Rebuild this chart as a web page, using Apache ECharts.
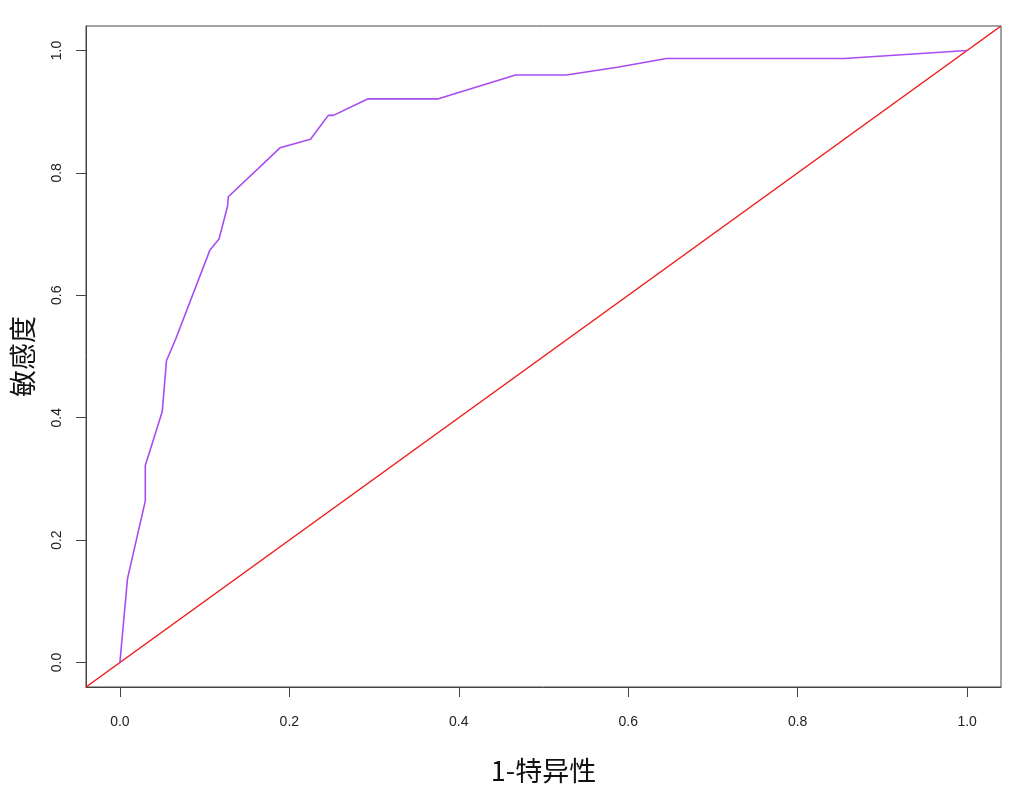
<!DOCTYPE html>
<html>
<head>
<meta charset="utf-8">
<script src="https://cdn.jsdelivr.net/npm/echarts@6/dist/echarts.min.js"></script>
<style>
  html, body { margin: 0; padding: 0; background: #fff; }
  #chart { width: 1015px; height: 787px; }
</style>
</head>
<body>
<div id="chart"></div>
<script>
// ROC curve: 1 - specificity vs sensitivity
const fpr = [0, 0.009, 0.030, 0.030, 0.050, 0.055, 0.066, 0.106, 0.117, 0.127, 0.128,
  0.189, 0.225, 0.246, 0.252, 0.293, 0.376, 0.467, 0.527, 0.589, 0.645, 0.855, 1.0]
const tpr = [0, 0.137, 0.264, 0.322, 0.410, 0.493, 0.529, 0.673, 0.692, 0.745, 0.761,
  0.841, 0.855, 0.894, 0.894, 0.921, 0.921, 0.960, 0.960, 0.973, 0.987, 0.987, 1.0]
// reference diagonal (abline 0,1) across the plot range
const diagX = [-0.04, 1.04]
const diagY = [-0.04, 1.04]
const tickValues = [0, 0.2, 0.4, 0.6, 0.8, 1.0]

const chart = echarts.init(document.getElementById('chart'))

const labelFont = { fontFamily: 'Liberation Sans', fontSize: 14, color: '#222' }
const titleFont = { fontFamily: 'Noto Sans CJK SC', fontSize: 27, color: '#111' }

const option = {
  animation: false,
  grid: {
    left: 86, right: 14, top: 26, bottom: 100,
    outerBoundsMode: 'none',
    show: true, borderColor: '#444', borderWidth: 1, backgroundColor: '#fff'
  },
  xAxis: {
    type: 'value', min: -0.04, max: 1.04,
    name: '1-特异性', nameLocation: 'middle', nameGap: 70,
    nameTextStyle: titleFont,
    splitLine: { show: false },
    axisLine: { show: true, onZero: false, lineStyle: { color: '#444' } },
    axisTick: { show: true, length: 10, customValues: tickValues, lineStyle: { color: '#444' } },
    axisLabel: Object.assign({ margin: 28, customValues: tickValues, formatter: v => v.toFixed(1) }, labelFont)
  },
  yAxis: {
    type: 'value', min: -0.04, max: 1.04,
    name: '敏感度', nameLocation: 'middle', nameGap: 50,
    nameTextStyle: titleFont,
    splitLine: { show: false },
    axisLine: { show: true, onZero: false, lineStyle: { color: '#444' } },
    axisTick: { show: true, length: 10, customValues: tickValues, lineStyle: { color: '#444' } },
    axisLabel: Object.assign({ margin: 22, rotate: 90, customValues: tickValues, formatter: v => v.toFixed(1) }, labelFont)
  },
  series: [
    {
      type: 'line',
      data: fpr.map((x, i) => [x, tpr[i]]),
      showSymbol: false,
      lineStyle: { color: '#A84CF2', width: 1.6 },
      z: 3
    },
    {
      type: 'line',
      data: diagX.map((x, i) => [x, diagY[i]]),
      showSymbol: false,
      clip: true,
      lineStyle: { color: '#F01818', width: 1.5 },
      z: 2
    }
  ]
}

chart.setOption(option)
</script>
</body>
</html>
